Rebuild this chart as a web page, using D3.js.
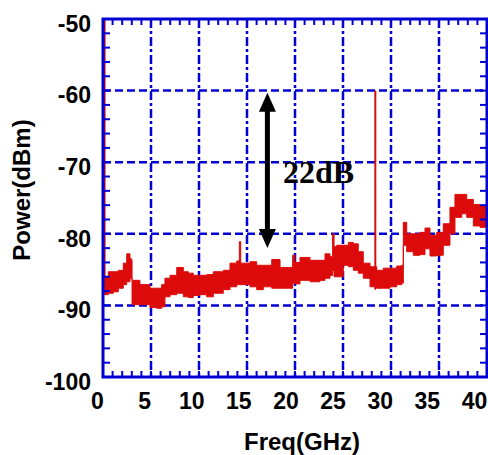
<!DOCTYPE html>
<html>
<head>
<meta charset="utf-8">
<script src="https://cdn.jsdelivr.net/npm/d3@7"></script>
<style>
  body { margin: 0; background: #fff; }
  svg { display: block; }
  .tick text { font-family: "Liberation Sans", Arial, sans-serif; font-weight: bold; font-size: 23px; fill: #000; }
</style>
</head>
<body>
<div id="chart-area"></div>
<script>
// spectrum envelope (upper / lower edge of the noisy trace)
const freq = [0.67, 1.2, 1.73, 2.26, 2.79, 3.15, 3.5, 3.68, 3.72, 4.56, 5.62, 6.33, 6.86, 7.21, 7.75, 8.46,
  9.16, 9.69, 10.22, 10.93, 11.64, 12.34, 13.4, 14.11, 14.82, 15.1, 15.25, 16.23, 16.94, 17.65, 18.54,
  19.42, 20.3, 20.76, 21.0, 21.54, 22.6, 23.66, 24.19, 24.72, 25.0, 25.15, 25.43, 26.13, 26.67, 27.2,
  27.72, 28.25, 28.97, 29.68, 30.38, 31.09, 31.8, 32.33, 32.5, 32.86, 33.56, 34.27, 34.8, 35.33, 36.04,
  36.74, 37.45, 37.98, 38.7, 39.23, 39.93, 40.64, 41.35, 41.6];
const upper = [-86.0, -85.3, -85.3, -85.1, -84.1, -82.8, -83.5, -83.7, -86.5, -87.1, -87.6, -87.6, -87.1, -86.2, -85.8, -84.7,
  -85.3, -85.5, -85.8, -85.8, -85.7, -85.3, -85.1, -84.1, -83.8, -81.1, -84.1, -83.9, -84.4, -84.4, -83.6,
  -84.7, -84.7, -83.0, -84.0, -83.3, -83.7, -83.7, -82.8, -83.2, -80.0, -81.8, -81.6, -81.6, -81.2, -81.4,
  -82.5, -84.1, -84.6, -85.1, -84.8, -84.8, -84.5, -84.4, -78.4, -80.0, -80.0, -79.8, -79.2, -80.2, -79.8,
  -78.6, -76.3, -74.5, -74.5, -75.2, -75.9, -76.1, -75.9, -75.9];
const lower = [-88.5, -88.3, -88.1, -87.6, -87.1, -86.7, -86.2, -86.2, -89.9, -89.9, -90.3, -90.4, -90.2, -88.8, -88.5, -88.3,
  -88.8, -88.9, -88.6, -88.5, -88.8, -88.3, -87.8, -87.4, -87.1, -87.1, -87.1, -87.4, -87.8, -87.4, -87.6,
  -87.6, -87.6, -86.9, -87.0, -86.5, -86.7, -86.5, -86.2, -85.8, -85.1, -86.0, -86.0, -84.4, -84.6, -85.1,
  -85.5, -86.2, -87.4, -87.6, -87.6, -87.4, -87.1, -86.9, -81.6, -82.5, -83.0, -82.9, -82.1, -83.1, -83.0,
  -81.6, -80.0, -77.7, -77.2, -77.7, -78.9, -79.1, -78.4, -78.4];

// narrow spectral lines
const spikeFreq = [0.75, 29.53];
const spikeTop = [-50, -60];
const spikeBase = [-88, -87.8];

const xTicks = [0, 5, 10, 15, 20, 25, 30, 35, 40];
const yTicks = [-50, -60, -70, -80, -90, -100];

const width = 488, height = 455;
const frame = { left: 103, right: 487, top: 19, bottom: 377 };
const blue = "#0000d2";
const red = "#dc0a0a";

const svg = d3.select("#chart-area").append("svg")
  .attr("width", width).attr("height", height);

// frequency scale (matches printed tick labels)
const x = d3.scaleLinear().domain([0, 40]).range([97, 474]);
const y = d3.scaleLinear().domain([-100, -50]).range([frame.bottom, frame.top]);
// grid divisions of the frame
const gx = d3.scaleLinear().domain([0, 8]).range([frame.left, frame.right]);

svg.append("clipPath").attr("id", "clip")
  .append("rect")
  .attr("x", frame.left).attr("y", frame.top)
  .attr("width", frame.right - frame.left).attr("height", frame.bottom - frame.top);

// grid
svg.append("g").selectAll("line")
  .data(d3.range(1, 8))
  .join("line")
  .attr("x1", d => gx(d)).attr("x2", d => gx(d))
  .attr("y1", frame.top).attr("y2", frame.bottom)
  .attr("stroke", blue).attr("stroke-width", 2.5)
  .attr("stroke-dasharray", "9,3,3,3");

svg.append("g").selectAll("line")
  .data([-60, -70, -80, -90])
  .join("line")
  .attr("x1", frame.left).attr("x2", frame.right)
  .attr("y1", d => y(d)).attr("y2", d => y(d))
  .attr("stroke", blue).attr("stroke-width", 2.5)
  .attr("stroke-dasharray", "8,4");

// data
const data = freq.map((f, i) => ({ f: f, hi: upper[i], lo: lower[i] }));
const plot = svg.append("g").attr("clip-path", "url(#clip)");

plot.append("path")
  .datum(data)
  .attr("fill", red)
  .attr("stroke", red)
  .attr("stroke-width", 1)
  .attr("d", d3.area()
    .x(d => x(d.f))
    .y0(d => y(d.lo))
    .y1(d => y(d.hi))
    .curve(d3.curveStepAfter));

plot.selectAll(".spike")
  .data(spikeFreq)
  .join("line")
  .attr("class", "spike")
  .attr("x1", d => x(d)).attr("x2", d => x(d))
  .attr("y1", (d, i) => y(spikeBase[i]))
  .attr("y2", (d, i) => y(spikeTop[i]))
  .attr("stroke", red)
  .attr("stroke-width", (d, i) => (i === 0 ? 3 : 2));

// minor ticks (inward)
const hMinor = d3.range(0, 8.01, 0.2);
const vMinor = d3.range(-100, -49, 2);
const ticks = svg.append("g").attr("stroke", blue).attr("stroke-width", 2);
ticks.selectAll(".tb").data(hMinor).join("line")
  .attr("x1", d => gx(d)).attr("x2", d => gx(d))
  .attr("y1", frame.bottom).attr("y2", frame.bottom - 6);
ticks.selectAll(".tt").data(hMinor).join("line")
  .attr("x1", d => gx(d)).attr("x2", d => gx(d))
  .attr("y1", frame.top).attr("y2", frame.top + 6);
ticks.selectAll(".tl").data(vMinor).join("line")
  .attr("x1", frame.left).attr("x2", frame.left + 7)
  .attr("y1", d => y(d)).attr("y2", d => y(d));
ticks.selectAll(".tr").data(vMinor).join("line")
  .attr("x1", frame.right).attr("x2", frame.right - 7)
  .attr("y1", d => y(d)).attr("y2", d => y(d));

// frame
svg.append("rect")
  .attr("x", frame.left).attr("y", frame.top)
  .attr("width", frame.right - frame.left).attr("height", frame.bottom - frame.top)
  .attr("fill", "none").attr("stroke", blue).attr("stroke-width", 3);

// tick labels
const xAxis = svg.append("g")
  .attr("transform", "translate(0," + frame.bottom + ")")
  .call(d3.axisBottom(x).tickValues(xTicks).tickSize(0).tickPadding(16));
xAxis.select(".domain").remove();

const yAxis = svg.append("g")
  .attr("transform", "translate(" + frame.left + ",5)")
  .call(d3.axisLeft(y).tickValues(yTicks).tickSize(0).tickPadding(12)
    .tickFormat(d => String(d)));
yAxis.select(".domain").remove();

// axis titles
svg.append("text")
  .attr("x", 302).attr("y", 450)
  .attr("text-anchor", "middle")
  .attr("font-family", "Liberation Sans, Arial, sans-serif")
  .attr("font-weight", "bold").attr("font-size", "24px")
  .text("Freq(GHz)");

svg.append("text")
  .attr("transform", "translate(30,190) rotate(-90)")
  .attr("text-anchor", "middle")
  .attr("font-family", "Liberation Sans, Arial, sans-serif")
  .attr("font-weight", "bold").attr("font-size", "24px")
  .text("Power(dBm)");

// 22 dB double arrow
const ax = x(18.08), aTop = y(-60.3), aBot = y(-82);
const head = 19, hw = 8.5;
const arrow = svg.append("g").attr("fill", "#000");
arrow.append("line")
  .attr("x1", ax).attr("x2", ax)
  .attr("y1", aTop + head - 2).attr("y2", aBot - head + 2)
  .attr("stroke", "#000").attr("stroke-width", 5);
arrow.append("path")
  .attr("d", `M${ax},${aTop}L${ax - hw},${aTop + head}L${ax + hw},${aTop + head}Z`);
arrow.append("path")
  .attr("d", `M${ax},${aBot}L${ax - hw},${aBot - head}L${ax + hw},${aBot - head}Z`);

svg.append("text")
  .attr("x", 283).attr("y", 183)
  .attr("font-family", "Liberation Serif, Times New Roman, serif")
  .attr("font-weight", "bold").attr("font-size", "32px")
  .text("22dB");
</script>
</body>
</html>
